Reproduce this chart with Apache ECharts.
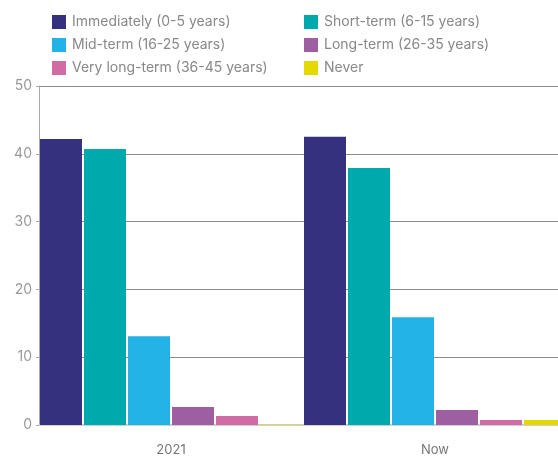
<!DOCTYPE html>
<html>
<head>
<meta charset="utf-8">
<script src="https://cdn.jsdelivr.net/npm/echarts@6/dist/echarts.min.js"></script>
<style>html,body{margin:0;padding:0;background:#fff}#c{width:558px;height:457px}</style>
</head>
<body>
<div id="c"></div>
<script>
var categories = ['2021', 'Now'];
var seriesNames = ['Immediately (0-5 years)', 'Short-term (6-15 years)', 'Mid-term (16-25 years)', 'Long-term (26-35 years)', 'Very long-term (36-45 years)', 'Never'];
var immediately = [42.2, 42.5];
var shortTerm = [40.7, 37.9];
var midTerm = [13.1, 15.9];
var longTerm = [2.65, 2.2];
var veryLongTerm = [1.33, 0.75];
var never = [0.08, 0.75];
var yTicks = [0, 10, 20, 30, 40, 50];
var colors = ['#35317f', '#00a9ac', '#22b2e6', '#9d5fa0', '#d06ba3', '#e3d900'];
var values = [immediately, shortTerm, midTerm, longTerm, veryLongTerm, never];

var FONT = 'Inter, "Noto Sans", sans-serif';
var legendPos = [[52, 15], [304, 15], [52, 38], [304, 38], [52, 61], [304, 61]];
var legends = seriesNames.map(function (n, i) {
  return {
    data: [n], left: legendPos[i][0], top: legendPos[i][1],
    icon: 'rect', itemWidth: 14, itemHeight: 14, itemGap: 0, padding: 0,
    selectedMode: false,
    textStyle: { color: '#888', fontSize: 14, fontFamily: FONT, padding: [0, 0, 0, 1] }
  };
});

var chart = echarts.init(document.getElementById('c'), null, { renderer: 'canvas' });
chart.setOption({
  animation: false,
  color: colors,
  legend: legends,
  grid: { left: 39, top: 86, right: -9, bottom: 32, containLabel: false, outerBoundsMode: 'none' },
  xAxis: {
    type: 'category', data: categories,
    axisLine: { lineStyle: { color: '#cfcfcf', width: 2 } },
    axisTick: { show: false },
    axisLabel: { color: '#777', fontSize: 13, fontFamily: FONT, margin: 19 }
  },
  yAxis: {
    type: 'value', min: 0, max: 50, interval: 10,
    axisLine: { show: true, lineStyle: { color: '#aaa' } },
    axisTick: { show: true, length: 3, lineStyle: { color: '#aaa' } },
    axisLabel: { color: '#999', fontSize: 14, fontFamily: FONT, margin: 7,
      formatter: function (v) { return yTicks.indexOf(v) >= 0 ? String(v) : ''; } },
    splitLine: { lineStyle: { color: '#8c8c8c', width: 1 } }
  },
  series: seriesNames.map(function (n, i) {
    return {
      name: n, type: 'bar', data: values[i],
      barWidth: 42, barGap: '4.76%', barCategoryGap: '0%',
      itemStyle: { color: colors[i] }
    };
  })
});
</script>
</body>
</html>
